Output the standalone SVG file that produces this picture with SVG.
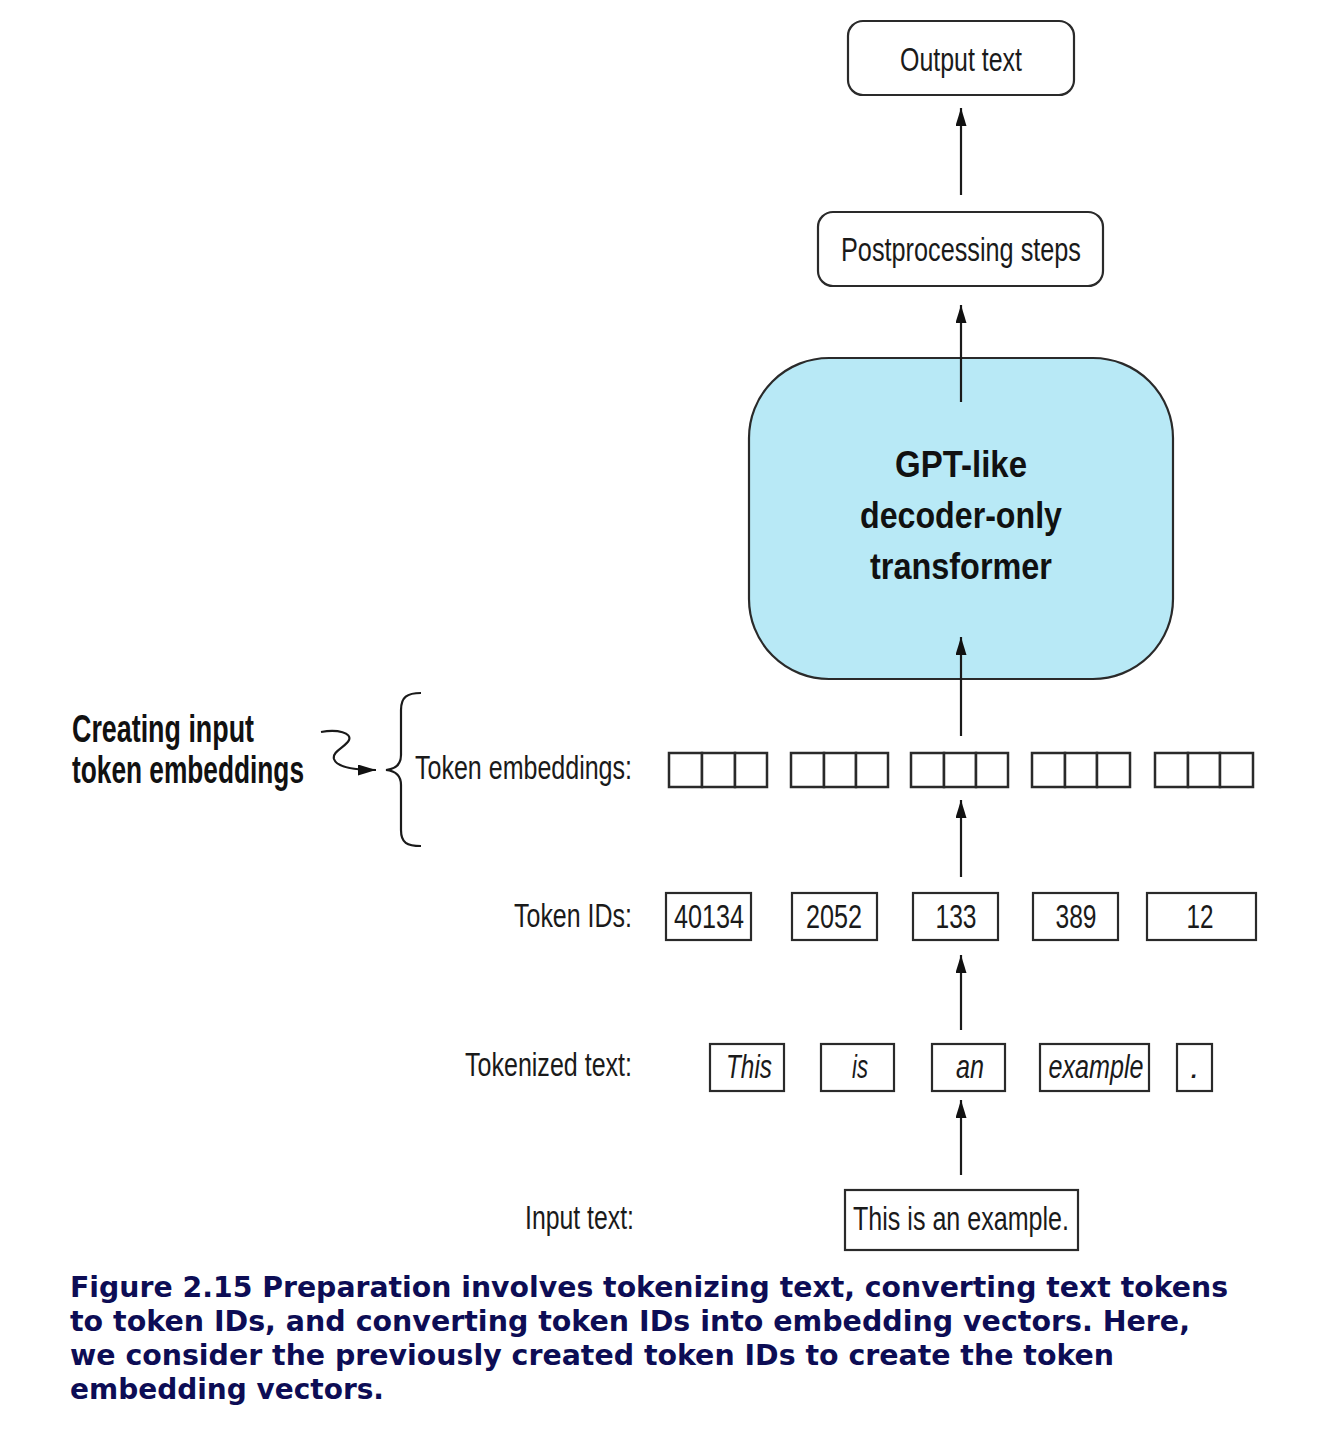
<svg xmlns="http://www.w3.org/2000/svg" width="1340" height="1430" viewBox="0 0 1340 1430">
<defs>
<marker id="ah" viewBox="0 0 18 11" refX="18" refY="5.5" markerWidth="18" markerHeight="11" markerUnits="userSpaceOnUse" orient="auto">
<path d="M0,0 L18,5.5 L0,11 z" fill="#111"/>
</marker>
<style>
.box{fill:#fff;stroke:#2a2a2a;stroke-width:2.2}
.cell{fill:#fff;stroke:#2a2a2a;stroke-width:2.5}
.t{font-family:"Liberation Sans",Arial,sans-serif;fill:#1a1a1a;font-size:34px}
.tc{text-anchor:middle}
.tr{text-anchor:end}
.it{font-style:italic}
.gpt{font-family:"Liberation Sans",Arial,sans-serif;font-weight:bold;font-size:37px;fill:#111;text-anchor:middle}
.side{font-family:"Liberation Sans",Arial,sans-serif;font-weight:bold;font-size:39px;fill:#111}
.cap{font-family:"DejaVu Sans",Verdana,sans-serif;font-weight:bold;font-size:28px;fill:#0d0d55}
.conn{stroke:#1a1a1a;stroke-width:2.2;fill:none}
</style>
</defs>
<rect width="1340" height="1430" fill="#fff"/>

<g id="output-text">
<rect class="box" x="848" y="21" width="226" height="74" rx="15"/>
<text class="t tc" x="961" y="71" textLength="122" lengthAdjust="spacingAndGlyphs">Output text</text>
</g>
<g id="postprocessing">
<rect class="box" x="818" y="212" width="285" height="74" rx="15"/>
<text class="t tc" x="961" y="261" textLength="240" lengthAdjust="spacingAndGlyphs">Postprocessing steps</text>
</g>
<g id="gpt">
<rect x="749" y="358" width="424" height="321" rx="80" fill="#b8e9f6" stroke="#2a2a2a" stroke-width="2.2"/>
<text class="gpt" x="961" y="477" textLength="132" lengthAdjust="spacingAndGlyphs">GPT-like</text>
<text class="gpt" x="961" y="528" textLength="202" lengthAdjust="spacingAndGlyphs">decoder-only</text>
<text class="gpt" x="961" y="579" textLength="182" lengthAdjust="spacingAndGlyphs">transformer</text>
</g>

<g id="side-label">
<text class="side" x="72" y="742" textLength="182" lengthAdjust="spacingAndGlyphs">Creating input</text>
<text class="side" x="72" y="783" textLength="232" lengthAdjust="spacingAndGlyphs">token embeddings</text>
</g>
<g id="brace">
<path class="conn" d="M421,693 C407,693 401,697 401,710 L401,755 C401,764 396,769 386,770 C396,771 401,776 401,785 L401,830 C401,843 407,846 421,846"/>
</g>

<g id="token-embeddings">
<text class="t tr" x="632" y="779" textLength="217" lengthAdjust="spacingAndGlyphs">Token embeddings:</text>
<rect class="cell" x="669" y="753" width="33" height="34"/><rect class="cell" x="702" y="753" width="33" height="34"/><rect class="cell" x="735" y="753" width="32" height="34"/>
<rect class="cell" x="791" y="753" width="33" height="34"/><rect class="cell" x="824" y="753" width="32" height="34"/><rect class="cell" x="856" y="753" width="32" height="34"/>
<rect class="cell" x="911" y="753" width="33" height="34"/><rect class="cell" x="944" y="753" width="32" height="34"/><rect class="cell" x="976" y="753" width="32" height="34"/>
<rect class="cell" x="1032" y="753" width="33" height="34"/><rect class="cell" x="1065" y="753" width="32" height="34"/><rect class="cell" x="1097" y="753" width="33" height="34"/>
<rect class="cell" x="1155" y="753" width="33" height="34"/><rect class="cell" x="1188" y="753" width="32" height="34"/><rect class="cell" x="1220" y="753" width="33" height="34"/>
</g>

<g id="token-ids">
<text class="t tr" x="632" y="927" textLength="118" lengthAdjust="spacingAndGlyphs">Token IDs:</text>
<rect class="box" x="666" y="893" width="85" height="47"/><text class="t tc" x="709" y="928" textLength="70" lengthAdjust="spacingAndGlyphs">40134</text>
<rect class="box" x="792" y="893" width="85" height="47"/><text class="t tc" x="834" y="928" textLength="56" lengthAdjust="spacingAndGlyphs">2052</text>
<rect class="box" x="913" y="893" width="85" height="47"/><text class="t tc" x="956" y="928" textLength="41" lengthAdjust="spacingAndGlyphs">133</text>
<rect class="box" x="1033" y="893" width="85" height="47"/><text class="t tc" x="1076" y="928" textLength="41" lengthAdjust="spacingAndGlyphs">389</text>
<rect class="box" x="1147" y="893" width="109" height="47"/><text class="t tc" x="1200" y="928" textLength="27" lengthAdjust="spacingAndGlyphs">12</text>
</g>

<g id="tokenized-text">
<text class="t tr" x="632" y="1076" textLength="167" lengthAdjust="spacingAndGlyphs">Tokenized text:</text>
<rect class="box" x="710" y="1044" width="74" height="47"/><text class="t tc it" x="749" y="1078" textLength="46" lengthAdjust="spacingAndGlyphs">This</text>
<rect class="box" x="821" y="1044" width="73" height="47"/><text class="t tc it" x="860" y="1078" textLength="16" lengthAdjust="spacingAndGlyphs">is</text>
<rect class="box" x="932" y="1044" width="73" height="47"/><text class="t tc it" x="970" y="1078" textLength="28" lengthAdjust="spacingAndGlyphs">an</text>
<rect class="box" x="1040" y="1044" width="109" height="47"/><text class="t tc it" x="1096" y="1078" textLength="95" lengthAdjust="spacingAndGlyphs">example</text>
<rect class="box" x="1177" y="1044" width="35" height="47"/><text class="t tc it" x="1195" y="1078">.</text>
</g>

<g id="input-text">
<text class="t tr" x="634" y="1229" textLength="109" lengthAdjust="spacingAndGlyphs">Input text:</text>
<rect class="box" x="845" y="1190" width="233" height="60"/>
<text class="t tc" x="961" y="1230" textLength="216" lengthAdjust="spacingAndGlyphs">This is an example.</text>
</g>

<g id="connectors">
<line class="conn" x1="961" y1="195" x2="961" y2="108" marker-end="url(#ah)"/>
<line class="conn" x1="961" y1="402" x2="961" y2="305" marker-end="url(#ah)"/>
<line class="conn" x1="961" y1="736" x2="961" y2="637" marker-end="url(#ah)"/>
<line class="conn" x1="961" y1="877" x2="961" y2="800" marker-end="url(#ah)"/>
<line class="conn" x1="961" y1="1030" x2="961" y2="955" marker-end="url(#ah)"/>
<line class="conn" x1="961" y1="1175" x2="961" y2="1100" marker-end="url(#ah)"/>
<path class="conn" d="M321,732 C338,729 352,733 349,740 C346,747 332,751 334,759 C337,768 355,770 376,770" marker-end="url(#ah)"/>
</g>

<g id="caption">
<text class="cap" x="70" y="1297" textLength="1158" lengthAdjust="spacingAndGlyphs">Figure 2.15 Preparation involves tokenizing text, converting text tokens</text>
<text class="cap" x="70" y="1331" textLength="1120" lengthAdjust="spacingAndGlyphs">to token IDs, and converting token IDs into embedding vectors. Here,</text>
<text class="cap" x="70" y="1365" textLength="1044" lengthAdjust="spacingAndGlyphs">we consider the previously created token IDs to create the token</text>
<text class="cap" x="70" y="1399" textLength="314" lengthAdjust="spacingAndGlyphs">embedding vectors.</text>
</g>
</svg>
